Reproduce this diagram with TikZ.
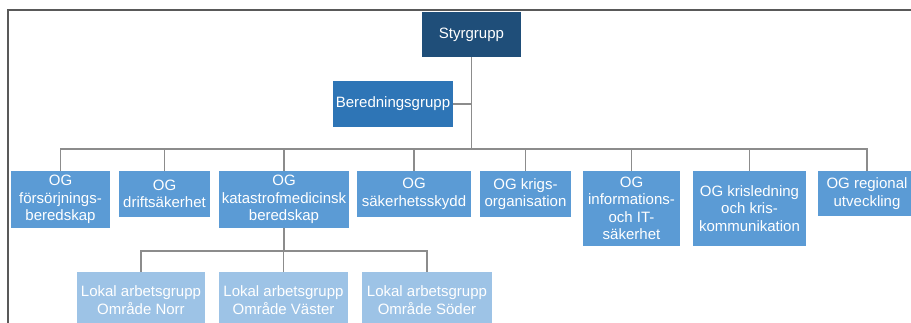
\documentclass[tikz,border=0pt]{standalone}
\usepackage{fontspec}
\setmainfont{Liberation Sans}
\definecolor{cdark}{HTML}{1F4E79}
\definecolor{cmid}{HTML}{2E75B6}
\definecolor{cog}{HTML}{5B9BD5}
\definecolor{clok}{HTML}{9DC3E6}
\definecolor{cline}{HTML}{8C8C8C}
\definecolor{cframe}{HTML}{595959}
\begin{document}
\begin{tikzpicture}[x=1pt,y=-1pt,
  box/.style={rectangle, draw=none, text=white, align=center, inner sep=1pt,
    font=\fontsize{15}{17.5}\selectfont},
  conn/.style={draw=cline, line width=1.3pt}]
\useasboundingbox (0,0) rectangle (911,323);
\clip (0,0) rectangle (911,323);
\fill[white] (0,0) rectangle (911,323);
\draw[cframe, line width=1.5pt] (8,340) -- (8,10) -- (920,10);

\node[box, fill=cdark, minimum width=99pt, minimum height=45pt] (sty) at (471.5,34.5) {Styrgrupp};
\node[box, fill=cmid, minimum width=120pt, minimum height=46pt] (ber) at (393,104) {Beredningsgrupp};

\node[box, fill=cog, minimum width=99pt, minimum height=57pt] (og1) at (60.5,199.5) {OG\\försörjnings-\\beredskap};
\node[box, fill=cog, minimum width=91pt, minimum height=46pt] (og2) at (164.5,194) {OG\\driftsäkerhet};
\node[box, fill=cog, minimum width=130pt, minimum height=57pt] (og3) at (284,199.5) {OG\\katastrofmedicinsk\\beredskap};
\node[box, fill=cog, minimum width=114pt, minimum height=46pt] (og4) at (414,194) {OG\\säkerhetsskydd};
\node[box, fill=cog, minimum width=91pt, minimum height=46pt] (og5) at (525.5,194) {OG krigs-\\organisation};
\node[box, fill=cog, minimum width=97pt, minimum height=75pt] (og6) at (631.5,208.5) {OG\\informations-\\och IT-\\säkerhet};
\node[box, fill=cog, minimum width=113pt, minimum height=75pt] (og7) at (749.5,208.5) {OG krisledning\\och kris-\\kommunikation};
\node[box, fill=cog, minimum width=98pt, minimum height=45pt] (og8) at (867,193.5) {OG regional\\utveckling};

\node[box, fill=clok, minimum width=128pt, minimum height=56pt] (lok1) at (141,300) {Lokal arbetsgrupp\\Område Norr};
\node[box, fill=clok, minimum width=129pt, minimum height=56pt] (lok2) at (283.5,300) {Lokal arbetsgrupp\\Område Väster};
\node[box, fill=clok, minimum width=130pt, minimum height=56pt] (lok3) at (427,300) {Lokal arbetsgrupp\\Område Söder};

\coordinate (bus) at (471.5,149);
\coordinate (bus2) at (284,251);

\draw[conn] (sty.south) -- (bus);
\draw[conn] (ber.east) -- (ber.east -| sty.south);
\foreach \n in {og1,og2,og3,og4,og5,og6,og7,og8}
  \draw[conn] (\n.north) |- (bus);
\draw[conn] (og3.south) -- (bus2);
\foreach \n in {lok1,lok2,lok3}
  \draw[conn] (\n.north) |- (bus2);
\end{tikzpicture}
\end{document}
